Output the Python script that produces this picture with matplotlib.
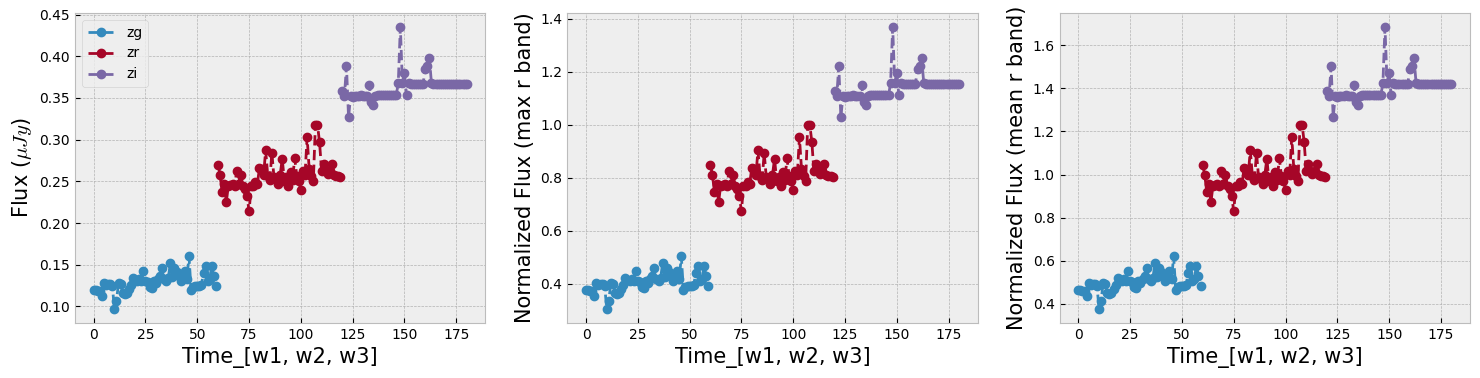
import numpy as np
import matplotlib
matplotlib.use("Agg")
import matplotlib.pyplot as plt

plt.style.use("bmh")

t_zg = np.arange(0, 60)
t_zr = np.arange(60, 120)
t_zi = np.arange(120, 181)

flux_zg = [0.120, 0.120, 0.119, 0.118, 0.112, 0.128, 0.126, 0.127, 0.127, 0.125,
           0.097, 0.107, 0.128, 0.127, 0.116, 0.115, 0.116, 0.121, 0.126, 0.134,
           0.132, 0.131, 0.133, 0.130, 0.142, 0.131, 0.129, 0.123, 0.122, 0.130,
           0.128, 0.133, 0.136, 0.146, 0.133, 0.130, 0.134, 0.152, 0.135, 0.146,
           0.141, 0.137, 0.130, 0.133, 0.142, 0.133, 0.160, 0.120, 0.123, 0.124,
           0.124, 0.124, 0.126, 0.140, 0.149, 0.131, 0.133, 0.149, 0.136, 0.124]

flux_zr = [0.270, 0.258, 0.237, 0.247, 0.225, 0.245, 0.246, 0.247, 0.244, 0.262,
           0.247, 0.258, 0.245, 0.241, 0.233, 0.214, 0.244, 0.245, 0.249, 0.247,
           0.266, 0.265, 0.258, 0.287, 0.257, 0.252, 0.284, 0.255, 0.253, 0.247,
           0.258, 0.277, 0.251, 0.255, 0.244, 0.261, 0.252, 0.278, 0.257, 0.250,
           0.240, 0.262, 0.258, 0.303, 0.265, 0.256, 0.250, 0.318, 0.318, 0.297,
           0.262, 0.271, 0.263, 0.259, 0.262, 0.271, 0.258, 0.257, 0.256, 0.255]

flux_zi = [0.358, 0.352, 0.388, 0.327, 0.352, 0.351, 0.352, 0.352, 0.352, 0.353,
           0.352, 0.352, 0.352, 0.366, 0.345, 0.341, 0.352, 0.353, 0.353, 0.353,
           0.353, 0.353, 0.353, 0.353, 0.353, 0.353, 0.353, 0.368, 0.435, 0.368,
           0.380, 0.353, 0.368, 0.367, 0.367, 0.367, 0.367, 0.367, 0.367, 0.367,
           0.385, 0.388, 0.398, 0.368, 0.367, 0.367, 0.367, 0.367, 0.367, 0.367,
           0.367, 0.367, 0.367, 0.367, 0.367, 0.367, 0.367, 0.367, 0.367, 0.367,
           0.367]

bands = ["zg", "zr", "zi"]
times = [t_zg, t_zr, t_zi]
fluxes = [np.array(flux_zg), np.array(flux_zr), np.array(flux_zi)]

norm_max = np.max(fluxes[1])
norm_mean = np.mean(fluxes[1])

fig, axes = plt.subplots(1, 3, figsize=(14.8, 3.78), dpi=100)
fig.subplots_adjust(left=0.0507, right=0.9932, top=0.9656, bottom=0.1455, wspace=0.2)

ylabels = [r"Flux ($\mu Jy$)", "Normalized Flux (max r band)", "Normalized Flux (mean r band)"]
divisors = [1.0, norm_max, norm_mean]

for ax, ylab, div in zip(axes, ylabels, divisors):
    for b, t, f in zip(bands, times, fluxes):
        ax.plot(t, f / div, "o--", label=b)
    ax.set_xlabel("Time_[w1, w2, w3]", fontsize=15)
    ax.set_ylabel(ylab, fontsize=15)
    ax.set_xticks([0, 25, 50, 75, 100, 125, 150, 175])

axes[0].legend(loc="upper left")

fig.savefig("out.png", dpi=100)
